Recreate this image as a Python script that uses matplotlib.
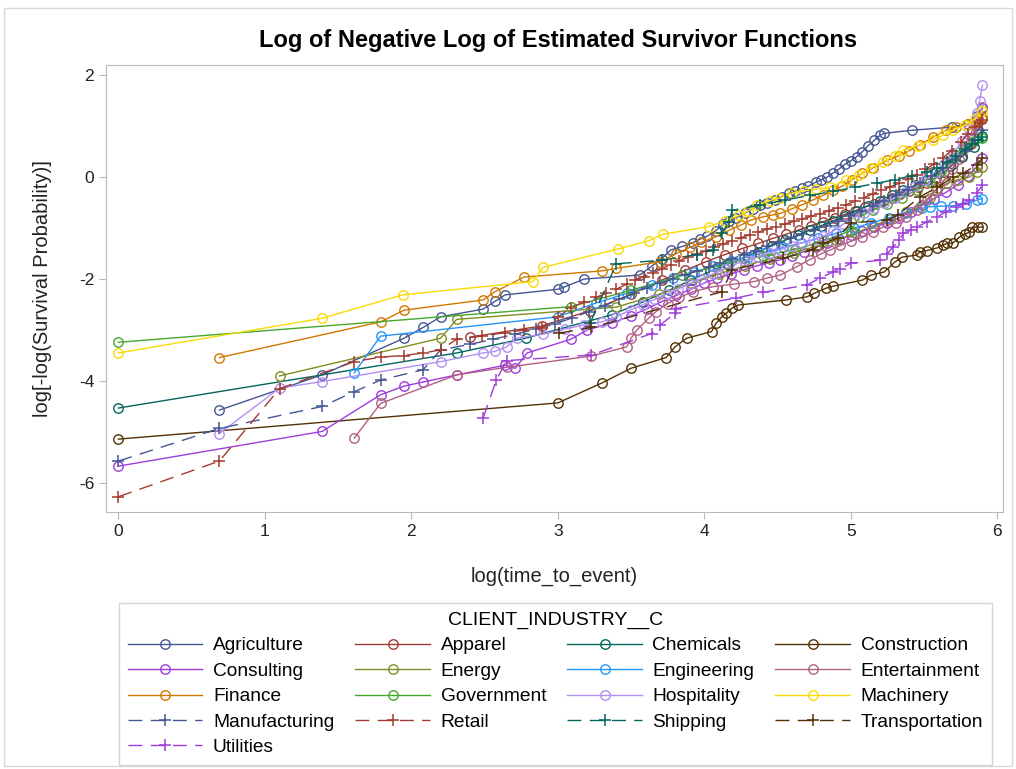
import matplotlib
matplotlib.use("Agg")
import matplotlib.pyplot as plt
from matplotlib.patches import Rectangle

plt.rcParams['font.family'] = ['Liberation Sans', 'DejaVu Sans']
plt.rcParams['axes.unicode_minus'] = False

# log(time) / log(-log S(t)) points per industry
agri_x = [0.69, 1.39, 1.95, 2.08, 2.20, 2.49, 2.57, 2.64, 3.00, 3.04, 3.18, 3.56, 3.64, 3.71, 3.77,
          3.85, 3.92, 3.97, 4.02, 4.08, 4.13, 4.17, 4.22, 4.28, 4.33, 4.38, 4.43, 4.48, 4.53, 4.58,
          4.62, 4.67, 4.71, 4.76, 4.80, 4.84, 4.88, 4.92, 4.96, 5.00, 5.04, 5.08, 5.12, 5.16, 5.20,
          5.23, 5.42, 5.69, 5.80, 5.86, 5.90]
agri_y = [-4.57, -3.88, -3.16, -2.95, -2.74, -2.59, -2.44, -2.31, -2.20, -2.16, -2.00, -1.92, -1.75, -1.60, -1.43,
          -1.36, -1.29, -1.22, -1.16, -1.05, -0.92, -0.86, -0.80, -0.70, -0.62, -0.55, -0.50, -0.44, -0.38, -0.32,
          -0.28, -0.22, -0.18, -0.10, -0.05, 0.00, 0.08, 0.16, 0.25, 0.32, 0.40, 0.50, 0.62, 0.72, 0.82,
          0.86, 0.92, 0.98, 1.05, 1.20, 1.35]

apparel_x = [2.40, 2.89, 3.22, 3.50, 3.71, 3.87, 4.01, 4.14, 4.26, 4.37, 4.47, 4.56, 4.65, 4.73, 4.81,
             4.89, 4.96, 5.03, 5.10, 5.16, 5.22, 5.28, 5.34, 5.40, 5.46, 5.52, 5.58, 5.64, 5.70, 5.76,
             5.82, 5.87, 5.90]
apparel_y = [-3.14, -2.92, -2.62, -2.30, -2.02, -1.83, -1.66, -1.52, -1.40, -1.30, -1.20, -1.12, -1.03, -0.95, -0.88,
             -0.80, -0.73, -0.66, -0.58, -0.52, -0.46, -0.40, -0.33, -0.27, -0.20, -0.12, -0.02, 0.10, 0.25, 0.42,
             0.65, 0.92, 1.15]

chem_x = [0.0, 2.31, 2.78, 3.37, 3.58, 3.76, 3.91, 4.04, 4.16, 4.27, 4.37, 4.46, 4.55, 4.64, 4.72,
          4.80, 4.88, 4.96, 5.04, 5.12, 5.20, 5.28, 5.36, 5.44, 5.52, 5.60, 5.68, 5.76, 5.84, 5.90]
chem_y = [-4.53, -3.45, -3.16, -2.70, -2.45, -2.22, -2.02, -1.85, -1.70, -1.58, -1.46, -1.35, -1.24, -1.14, -1.04,
          -0.95, -0.86, -0.76, -0.66, -0.56, -0.46, -0.36, -0.26, -0.16, -0.05, 0.08, 0.22, 0.40, 0.60, 0.80]

constr_x = [0.0, 3.00, 3.30, 3.50, 3.74, 3.80, 3.88, 4.05, 4.08, 4.12, 4.15, 4.19, 4.23, 4.56, 4.70,
            4.75, 4.83, 4.88, 5.08, 5.14, 5.23, 5.30, 5.35, 5.45, 5.47, 5.52, 5.59, 5.63, 5.66, 5.70,
            5.74, 5.78, 5.81, 5.83, 5.87, 5.90]
constr_y = [-5.14, -4.43, -4.04, -3.75, -3.54, -3.33, -3.16, -3.03, -2.87, -2.74, -2.67, -2.57, -2.51, -2.41, -2.35,
            -2.28, -2.18, -2.14, -2.02, -1.92, -1.86, -1.67, -1.57, -1.53, -1.47, -1.44, -1.39, -1.33, -1.30, -1.29,
            -1.18, -1.12, -1.08, -0.98, -0.98, -0.98]

consult_x = [0.0, 1.39, 1.79, 1.95, 2.08, 2.31, 2.64, 2.71, 2.79, 3.09, 3.20, 3.37, 3.50, 3.61, 3.71,
             3.81, 3.91, 4.00, 4.09, 4.18, 4.27, 4.36, 4.44, 4.52, 4.60, 4.68, 4.76, 4.84, 4.92, 5.00,
             5.08, 5.16, 5.25, 5.33, 5.41, 5.49, 5.57, 5.65, 5.73, 5.80, 5.86, 5.90]
consult_y = [-5.67, -4.99, -4.27, -4.10, -4.02, -3.88, -3.69, -3.75, -3.45, -3.18, -3.00, -2.86, -2.72, -2.58, -2.44,
             -2.32, -2.20, -2.08, -1.98, -1.90, -1.82, -1.74, -1.68, -1.62, -1.54, -1.46, -1.38, -1.30, -1.22, -1.14,
             -1.06, -0.98, -0.90, -0.80, -0.68, -0.55, -0.42, -0.30, -0.15, 0.02, 0.20, 0.38]

energy_x = [1.10, 2.20, 2.31, 3.40, 3.69, 3.91, 4.10, 4.28, 4.45, 4.61, 4.76, 4.90, 5.03, 5.15, 5.27,
            5.38, 5.47, 5.54, 5.59, 5.66, 5.73, 5.81, 5.86, 5.90]
energy_y = [-3.90, -3.16, -2.79, -2.55, -2.30, -2.08, -1.90, -1.74, -1.60, -1.48, -1.36, -1.24, -1.10, -0.96, -0.82,
            -0.68, -0.58, -0.40, -0.22, -0.12, -0.05, 0.00, 0.10, 0.20]

engin_x = [1.61, 1.79, 3.00, 3.26, 3.47, 3.64, 3.79, 3.93, 4.06, 4.18, 4.30, 4.42, 4.54, 4.66, 4.78,
           4.90, 5.02, 5.14, 5.26, 5.38, 5.49, 5.54, 5.62, 5.70, 5.79, 5.86, 5.90]
engin_y = [-3.84, -3.12, -2.74, -2.47, -2.28, -2.12, -1.98, -1.86, -1.75, -1.65, -1.56, -1.47, -1.38, -1.29, -1.20,
           -1.10, -1.00, -0.90, -0.80, -0.70, -0.61, -0.58, -0.57, -0.56, -0.52, -0.45, -0.42]

entert_x = [1.61, 1.79, 2.31, 2.65, 3.23, 3.47, 3.50, 3.54, 3.62, 3.67, 3.75, 3.83, 3.92, 4.06, 4.20,
            4.34, 4.43, 4.52, 4.63, 4.72, 4.80, 4.86, 4.93, 5.00, 5.08, 5.15, 5.22, 5.31, 5.38, 5.45,
            5.52, 5.58, 5.64, 5.69, 5.74, 5.79, 5.83, 5.87, 5.90]
entert_y = [-5.12, -4.44, -3.88, -3.73, -3.51, -3.33, -3.16, -3.00, -2.77, -2.64, -2.48, -2.36, -2.25, -2.15, -2.10,
            -2.05, -1.98, -1.92, -1.76, -1.62, -1.50, -1.43, -1.34, -1.26, -1.18, -1.08, -0.98, -0.90, -0.78, -0.65,
            -0.45, -0.25, -0.05, 0.15, 0.35, 0.60, 0.92, 1.15, 1.37]

finance_x = [0.69, 1.79, 1.95, 2.49, 2.57, 2.77, 3.30, 3.40, 3.70, 3.81, 3.90, 3.98, 4.08, 4.17, 4.25,
             4.32, 4.40, 4.47, 4.52, 4.60, 4.67, 4.74, 4.81, 4.88, 4.94, 5.01, 5.08, 5.15, 5.25, 5.33,
             5.40, 5.47, 5.56, 5.65, 5.72, 5.80, 5.86, 5.90]
finance_y = [-3.54, -2.84, -2.61, -2.41, -2.25, -1.96, -1.84, -1.79, -1.66, -1.50, -1.38, -1.28, -1.17, -1.04, -0.94,
             -0.84, -0.78, -0.74, -0.71, -0.62, -0.54, -0.45, -0.36, -0.26, -0.18, -0.05, 0.08, 0.18, 0.33, 0.42,
             0.52, 0.63, 0.78, 0.92, 0.98, 1.05, 1.12, 1.18]

gov_x = [0.0, 3.09, 3.50, 3.85, 4.15, 4.40, 4.62, 4.82, 5.00, 5.06, 5.15, 5.25, 5.35, 5.45, 5.54,
         5.62, 5.70, 5.77, 5.84, 5.90]
gov_y = [-3.24, -2.54, -2.22, -1.92, -1.70, -1.55, -1.42, -1.25, -1.05, -0.78, -0.65, -0.52, -0.40, -0.25, -0.10,
         0.12, 0.38, 0.60, 0.70, 0.76]

hosp_x = [0.69, 1.10, 1.39, 2.20, 2.49, 2.57, 2.65, 2.72, 2.90, 3.05, 3.18, 3.30, 3.40, 3.50, 3.58,
          3.66, 3.74, 3.82, 3.90, 3.98, 4.06, 4.14, 4.22, 4.29, 4.37, 4.45, 4.52, 4.60, 4.67, 4.74,
          4.81, 4.88, 4.95, 5.02, 5.09, 5.16, 5.23, 5.30, 5.37, 5.44, 5.51, 5.58, 5.64, 5.70, 5.76,
          5.81, 5.86, 5.88, 5.90]
hosp_y = [-5.03, -4.14, -4.01, -3.62, -3.45, -3.42, -3.33, -3.16, -3.08, -2.98, -2.90, -2.84, -2.74, -2.60, -2.50,
          -2.40, -2.30, -2.20, -2.09, -1.99, -1.90, -1.80, -1.70, -1.63, -1.56, -1.48, -1.42, -1.35, -1.29, -1.24,
          -1.16, -1.06, -0.92, -0.80, -0.70, -0.60, -0.50, -0.40, -0.30, -0.18, -0.05, 0.10, 0.25, 0.47, 0.70,
          0.95, 1.25, 1.50, 1.80]

mach_x = [0.0, 1.39, 1.94, 2.83, 2.90, 3.41, 3.62, 3.72, 4.03, 4.14, 4.24, 4.30, 4.36, 4.45, 4.52,
          4.60, 4.68, 4.76, 4.86, 4.97, 5.06, 5.14, 5.22, 5.30, 5.36, 5.46, 5.56, 5.63, 5.70, 5.78,
          5.85, 5.90]
mach_y = [-3.45, -2.77, -2.31, -2.05, -1.77, -1.41, -1.25, -1.12, -0.97, -0.86, -0.75, -0.66, -0.55, -0.46, -0.40,
          -0.31, -0.27, -0.24, -0.20, -0.06, 0.05, 0.18, 0.30, 0.42, 0.53, 0.62, 0.73, 0.82, 0.92, 1.02,
          1.15, 1.30]

manuf_x = [0.0, 0.69, 1.39, 1.61, 1.79, 2.08, 2.20, 2.40, 2.56, 2.71, 2.85, 2.98, 3.10, 3.21, 3.32,
           3.42, 3.52, 3.61, 3.70, 3.79, 3.87, 3.95, 4.03, 4.11, 4.19, 4.27, 4.35, 4.43, 4.51, 4.59,
           4.67, 4.75, 4.83, 4.91, 4.99, 5.07, 5.15, 5.23, 5.31, 5.39, 5.47, 5.55, 5.63, 5.71, 5.79,
           5.85, 5.90]
manuf_y = [-5.57, -4.93, -4.50, -4.21, -3.98, -3.78, -3.39, -3.28, -3.18, -3.08, -2.98, -2.88, -2.76, -2.64, -2.52,
           -2.40, -2.28, -2.17, -2.08, -2.00, -1.92, -1.84, -1.76, -1.68, -1.60, -1.52, -1.44, -1.36, -1.28, -1.20,
           -1.12, -1.04, -0.95, -0.86, -0.76, -0.66, -0.56, -0.46, -0.36, -0.25, -0.12, 0.02, 0.17, 0.34, 0.52,
           0.72, 0.92]

retail_x = [0.0, 0.69, 1.10, 1.61, 1.79, 1.95, 2.08, 2.20, 2.31, 2.48, 2.64, 2.77, 2.89, 3.00, 3.09,
            3.18, 3.26, 3.33, 3.40, 3.47, 3.53, 3.59, 3.65, 3.71, 3.77, 3.83, 3.89, 3.95, 4.01, 4.07,
            4.13, 4.19, 4.25, 4.31, 4.37, 4.43, 4.49, 4.55, 4.61, 4.67, 4.73, 4.79, 4.85, 4.91, 4.97,
            5.03, 5.09, 5.15, 5.21, 5.27, 5.33, 5.39, 5.45, 5.51, 5.57, 5.63, 5.69, 5.75, 5.80, 5.85,
            5.88, 5.90]
retail_y = [-6.27, -5.57, -4.15, -3.62, -3.53, -3.50, -3.45, -3.39, -3.18, -3.12, -3.05, -3.00, -2.96, -2.75, -2.56,
            -2.45, -2.36, -2.28, -2.20, -2.10, -2.02, -1.95, -1.88, -1.80, -1.72, -1.64, -1.57, -1.51, -1.45, -1.38,
            -1.31, -1.25, -1.19, -1.13, -1.08, -1.02, -0.97, -0.92, -0.87, -0.82, -0.77, -0.72, -0.66, -0.60, -0.54,
            -0.47, -0.40, -0.33, -0.26, -0.19, -0.12, -0.04, 0.05, 0.15, 0.26, 0.38, 0.52, 0.68, 0.84, 0.98,
            1.06, 1.12]

ship_x = [3.22, 3.40, 3.71, 3.95, 4.06, 4.12, 4.17, 4.19, 4.38, 4.55, 4.72, 4.88, 5.03, 5.18, 5.30,
          5.42, 5.52, 5.59, 5.66, 5.72, 5.78, 5.83, 5.87, 5.90]
ship_y = [-2.87, -1.70, -1.63, -1.52, -1.43, -1.10, -0.88, -0.65, -0.55, -0.45, -0.36, -0.28, -0.20, -0.12, -0.05,
          0.03, 0.10, 0.18, 0.30, 0.42, 0.55, 0.65, 0.72, 0.78]

transp_x = [3.01, 3.23, 4.12, 4.19, 4.54, 4.74, 4.81, 4.91, 5.00, 5.25, 5.32, 5.47, 5.59, 5.70, 5.77,
            5.86, 5.90]
transp_y = [-3.06, -2.95, -2.25, -1.82, -1.59, -1.43, -1.30, -1.20, -0.90, -0.84, -0.75, -0.39, -0.20, 0.00, 0.08,
            0.24, 0.37]

util_x = [2.49, 2.58, 2.65, 3.23, 3.64, 3.70, 3.80, 3.81, 4.22, 4.40, 4.70, 4.79, 4.88, 4.93, 5.00,
          5.20, 5.25, 5.29, 5.33, 5.36, 5.41, 5.45, 5.52, 5.59, 5.65, 5.72, 5.77, 5.81, 5.86, 5.90]
util_y = [-4.73, -3.98, -3.60, -3.49, -3.07, -2.90, -2.67, -2.58, -2.37, -2.26, -2.12, -1.98, -1.86, -1.80, -1.69,
          -1.63, -1.50, -1.37, -1.24, -1.10, -1.04, -0.98, -0.88, -0.78, -0.68, -0.59, -0.52, -0.45, -0.31, -0.16]

industries = ['Agriculture', 'Apparel', 'Chemicals', 'Construction', 'Consulting', 'Energy',
              'Engineering', 'Entertainment', 'Finance', 'Government', 'Hospitality', 'Machinery',
              'Manufacturing', 'Retail', 'Shipping', 'Transportation', 'Utilities']
series = [(agri_x, agri_y), (apparel_x, apparel_y), (chem_x, chem_y), (constr_x, constr_y),
          (consult_x, consult_y), (energy_x, energy_y), (engin_x, engin_y), (entert_x, entert_y),
          (finance_x, finance_y), (gov_x, gov_y), (hosp_x, hosp_y), (mach_x, mach_y),
          (manuf_x, manuf_y), (retail_x, retail_y), (ship_x, ship_y), (transp_x, transp_y),
          (util_x, util_y)]

# group colours cycle after 12; second cycle uses + markers and dashes
palette = ['#445694', '#A23A2E', '#01665E', '#543005', '#9D3CDB', '#7F8E1F',
           '#2597FA', '#B26084', '#D17800', '#47A82A', '#B38EF3', '#F9DA04']

fig = plt.figure(figsize=(10.16, 7.69), dpi=100)
ax = fig.add_axes([106 / 1016, 1 - 512 / 769, 897 / 1016, 447 / 769])

handles = []
for i, (name, (xs, ys)) in enumerate(zip(industries, series)):
    c = palette[i % 12]
    if i < 12:
        h, = ax.plot(xs, ys, color=c, lw=1.0, marker='o', ms=6.8, mfc='none',
                     mec=c, mew=1.0, label=name)
    else:
        h, = ax.plot(xs, ys, color=c, lw=1.0, ls=(0, (10, 6)), marker='+', ms=9,
                     mew=1.1, label=name)
    handles.append(h)

ax.set_xlim(-0.085, 6.04)
ax.set_ylim(-6.57, 2.2)
ax.set_xticks(range(0, 7))
ax.set_yticks([-6, -4, -2, 0, 2])
spine_c = '#b4bbbf'
for s in ax.spines.values():
    s.set_color(spine_c)
ax.tick_params(direction='out', length=5, color=spine_c, labelsize=12.5, labelcolor='#222222')
ax.set_xlabel('log(time_to_event)', fontsize=14.5, labelpad=20, color='#222222')
ax.set_ylabel('log[-log(Survival Probability)]', fontsize=14.5, labelpad=19, color='#222222')

fig.text(558 / 1016, 1 - 40 / 769, 'Log of Negative Log of Estimated Survivor Functions',
         ha='center', va='center', fontsize=17, fontweight='bold')

# legend rows read left to right
order = [0, 4, 8, 12, 16, 1, 5, 9, 13, 2, 6, 10, 14, 3, 7, 11, 15]
leg = fig.legend([handles[k] for k in order], [industries[k] for k in order],
                 ncol=4, loc='upper left',
                 bbox_to_anchor=(119 / 1016, 1 - 603 / 769),
                 title='CLIENT_INDUSTRY__C', title_fontsize=14, fontsize=13.8,
                 frameon=True, fancybox=False, edgecolor='#c8c8c8',
                 handlelength=3.9, handletextpad=0.55, labelspacing=0.42,
                 borderpad=0.45, borderaxespad=0, columnspacing=1.1)
leg.get_frame().set_linewidth(1.0)

fig.patches.append(Rectangle((4 / 1016, 1 - 766 / 769), 1008 / 1016, 758 / 769,
                             transform=fig.transFigure, fill=False, edgecolor='#d9d9d9', lw=1))

fig.savefig('out.png', dpi=100)
